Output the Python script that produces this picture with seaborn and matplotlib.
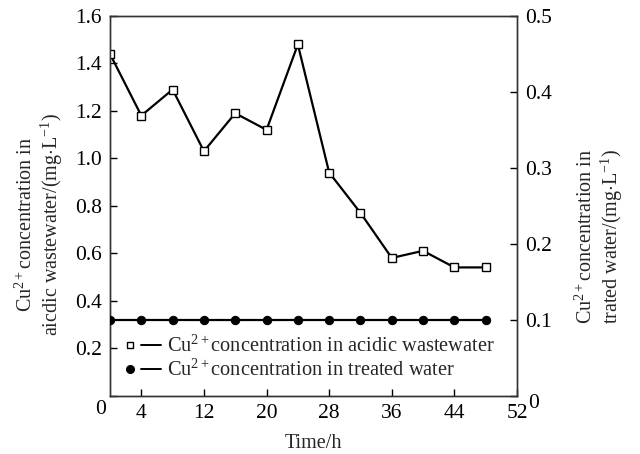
import matplotlib
matplotlib.use("Agg")
import matplotlib.pyplot as plt
from matplotlib.lines import Line2D
from matplotlib.legend_handler import HandlerTuple
from matplotlib.transforms import ScaledTranslation
import seaborn as sns
import pandas as pd

# Sampling times (h) and Cu2+ concentrations (mg/L)
time_h = [0, 4, 8, 12, 16, 20, 24, 28, 32, 36, 40, 44, 48]
acidic_wastewater = [1.44, 1.18, 1.29, 1.03, 1.19, 1.12, 1.48, 0.94, 0.77, 0.58, 0.61, 0.54, 0.54]
treated_water = [0.10, 0.10, 0.10, 0.10, 0.10, 0.10, 0.10, 0.10, 0.10, 0.10, 0.10, 0.10, 0.10]

x_ticks = [4, 12, 20, 28, 36, 44, 52]
left_ticks = [0, 0.2, 0.4, 0.6, 0.8, 1.0, 1.2, 1.4, 1.6]
left_tick_labels = ["0", "0.2", "0.4", "0.6", "0.8", "1.0", "1.2", "1.4", "1.6"]
right_ticks = [0, 0.1, 0.2, 0.3, 0.4, 0.5]
right_tick_labels = ["0", "0.1", "0.2", "0.3", "0.4", "0.5"]

label_acidic = "Cu$^{2+}$concentration in acidic wastewater"
label_treated = "Cu$^{2+}$concentration in treated water"

sns.set_theme(style="ticks")
plt.rcParams["font.family"] = ["Liberation Serif", "DejaVu Serif"]
plt.rcParams["mathtext.fontset"] = "custom"
plt.rcParams["mathtext.rm"] = "Liberation Serif"
plt.rcParams["mathtext.it"] = "Liberation Serif:italic"

df = pd.DataFrame({"time": time_h, "acidic": acidic_wastewater, "treated": treated_water})

fig = plt.figure(figsize=(6.4, 4.54), dpi=100)
ax = fig.add_axes([110 / 640, 1 - 395.5 / 454, 407 / 640, 379.5 / 454])
ax2 = ax.twinx()

sns.lineplot(data=df, x="time", y="acidic", ax=ax, color="black", lw=1.6,
             marker="s", markersize=5.5, markerfacecolor="white",
             markeredgecolor="black", markeredgewidth=1.0, zorder=3)
sns.lineplot(data=df, x="time", y="treated", ax=ax2, color="black", lw=1.6,
             marker="o", markersize=6, markerfacecolor="black",
             markeredgecolor="black", zorder=3)

ax.set_xlim(0, 52)
ax.set_ylim(0, 1.6)
ax2.set_ylim(0, 0.5)

ax.set_xticks(x_ticks)
ax.set_yticks(left_ticks)
ax.set_yticklabels(left_tick_labels)
ax2.set_yticks(right_ticks)
ax2.set_yticklabels(right_tick_labels)

tick_fs = 15.5
for a in (ax, ax2):
    a.tick_params(direction="in", length=5, width=1.0, labelsize=tick_fs, colors="black", pad=6)
    for s in a.spines.values():
        s.set_linewidth(1.0)
        s.set_color("#333333")

ax.set_xlabel("Time/h", fontsize=14.5, labelpad=8)
ax.set_ylabel("Cu$^{2+}$concentration in\naicdic wastewater/(mg$\\cdot$L$^{-1}$)",
              fontsize=14.5, linespacing=1.1)
ax2.set_ylabel("Cu$^{2+}$concentration in\ntrated water/(mg$\\cdot$L$^{-1}$)",
               fontsize=14.5, linespacing=1.1, rotation=90)
ax.yaxis.set_label_coords(-0.11, 0.45)
ax2.yaxis.set_label_coords(1.145, 0.42)

# Nudge the zero labels off the corners
for lab in ax.get_yticklabels():
    if lab.get_text() == "0":
        lab.set_transform(lab.get_transform() + ScaledTranslation(4 / 100, -12 / 100, fig.dpi_scale_trans))
for lab in ax2.get_yticklabels():
    if lab.get_text() == "0":
        lab.set_transform(lab.get_transform() + ScaledTranslation(3 / 100, -5 / 100, fig.dpi_scale_trans))

h_sq = Line2D([], [], ls="none", marker="s", markersize=5, markerfacecolor="white",
              markeredgecolor="black", markeredgewidth=1.0)
h_ci = Line2D([], [], ls="none", marker="o", markersize=5.5, color="black")
h_ln = Line2D([], [], color="black", lw=1.4)
ax.legend([(h_sq, h_ln), (h_ci, h_ln)], [label_acidic, label_treated],
          handler_map={tuple: HandlerTuple(ndivide=None, pad=0.0)},
          loc="lower left", bbox_to_anchor=(0.0, 0.012), frameon=False,
          fontsize=14.7, handlelength=2.0, handletextpad=0.3, labelspacing=0.14,
          borderpad=0.0)

fig.savefig("out.png", dpi=100)
